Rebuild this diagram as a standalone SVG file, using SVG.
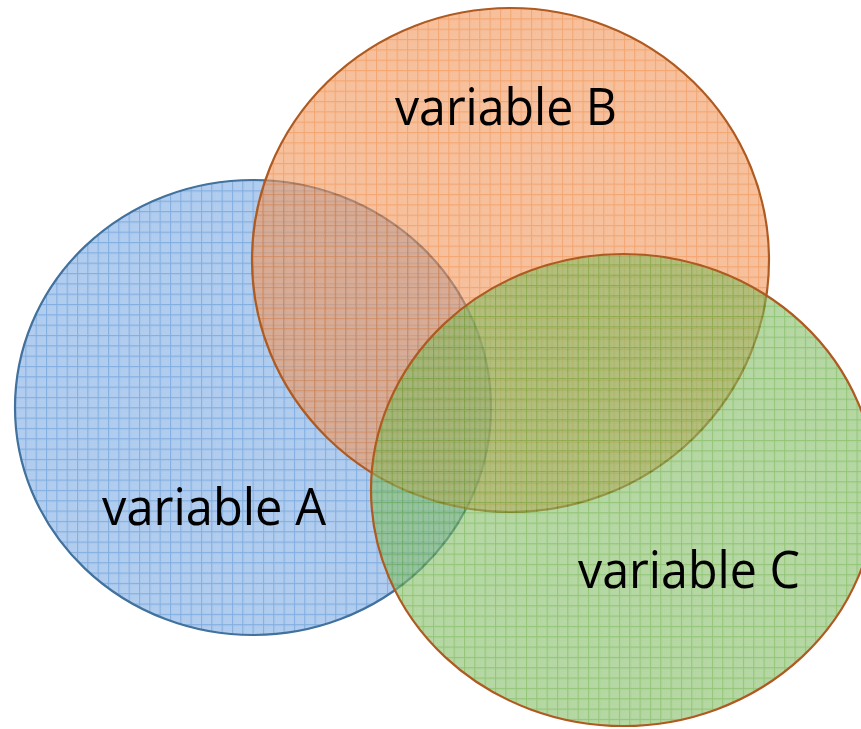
<svg xmlns="http://www.w3.org/2000/svg" width="861" height="729" viewBox="0 0 861 729">
  <defs>
    <pattern id="chkA" width="2" height="2" patternUnits="userSpaceOnUse">
      <rect width="2" height="2" fill="#82AFE6"/>
      <rect width="1" height="1" fill="#6FA0DC"/>
    </pattern>
    <pattern id="chkB" width="2" height="2" patternUnits="userSpaceOnUse">
      <rect width="2" height="2" fill="#F39B61"/>
      <rect width="1" height="1" fill="#EE8A4A"/>
    </pattern>
    <pattern id="chkC" width="2" height="2" patternUnits="userSpaceOnUse">
      <rect width="2" height="2" fill="#89C16B"/>
      <rect width="1" height="1" fill="#78B459"/>
    </pattern>
    <pattern id="gridA" x="15" y="180" width="10.33" height="10.33" patternUnits="userSpaceOnUse">
      <rect width="10.33" height="10.33" fill="url(#chkA)"/>
      <path d="M0 0.5H10.33M0.5 0V10.33" stroke="#2E78CC" stroke-width="1.2" fill="none"/>
    </pattern>
    <pattern id="gridB" x="252" y="8" width="10.33" height="10.33" patternUnits="userSpaceOnUse">
      <rect width="10.33" height="10.33" fill="url(#chkB)"/>
      <path d="M0 0.5H10.33M0.5 0V10.33" stroke="#EA6A12" stroke-width="1.2" fill="none"/>
    </pattern>
    <pattern id="gridC" x="371" y="254" width="10.33" height="10.33" patternUnits="userSpaceOnUse">
      <rect width="10.33" height="10.33" fill="url(#chkC)"/>
      <path d="M0 0.5H10.33M0.5 0V10.33" stroke="#4A9E1C" stroke-width="1.2" fill="none"/>
    </pattern>
  </defs>
  <style>
    .shape { fill-opacity: 0.6; stroke-width: 2.2; }
    .lbl { font-family: "Open Sans", "Noto Sans", sans-serif; font-size: 52px; fill: #000000; }
  </style>
  <rect width="861" height="729" fill="#FFFFFF"/>
  <g id="nodeA">
    <ellipse class="shape" cx="253" cy="407.5" rx="238" ry="227.5" fill="url(#gridA)" stroke="#41719C"/>
  </g>
  <g id="nodeB">
    <ellipse class="shape" cx="510.5" cy="260" rx="258.5" ry="252" fill="url(#gridB)" stroke="#AE5A21"/>
  </g>
  <g id="nodeC">
    <ellipse class="shape" cx="623.5" cy="490" rx="252.5" ry="236" fill="url(#gridC)" stroke="#AE5A21"/>
  </g>
  <g id="labels">
    <text class="lbl" x="102" y="525" textLength="224" lengthAdjust="spacingAndGlyphs">variable A</text>
    <text class="lbl" x="395" y="125" textLength="222" lengthAdjust="spacingAndGlyphs">variable B</text>
    <text class="lbl" x="578" y="588" textLength="222" lengthAdjust="spacingAndGlyphs">variable C</text>
  </g>
  <g id="connectors"/>
</svg>
